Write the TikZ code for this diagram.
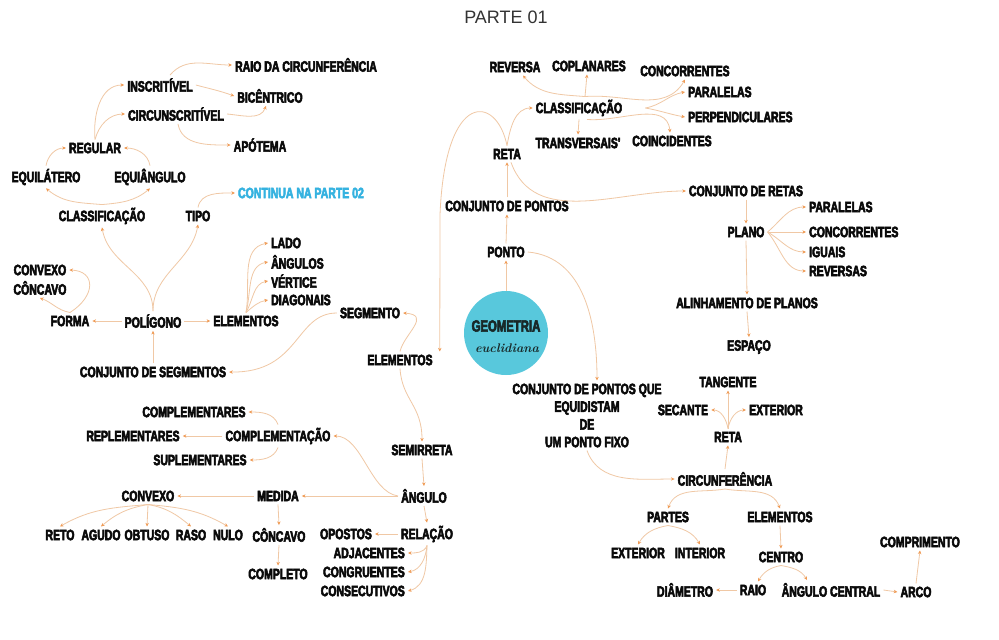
\documentclass[tikz,border=0pt]{standalone}
\usepackage{fontspec}
\usetikzlibrary{arrows.meta}
\newfontfamily\mapfont{Liberation Sans}[FakeStretch=0.70,FakeBold=3.5]
\newfontfamily\titlefont{Liberation Sans}
\definecolor{linkc}{RGB}{240,200,165}
\definecolor{tipc}{RGB}{240,155,85}
\definecolor{txtc}{RGB}{10,10,10}
\definecolor{contc}{RGB}{52,178,224}
\definecolor{discc}{RGB}{88,200,220}
\definecolor{disctxt}{RGB}{24,40,40}

\begin{document}
\begin{tikzpicture}[x=1pt,y=-1pt,
  lbl/.style={inner sep=3pt, text=txtc, font=\mapfont\bfseries\fontsize{15}{17.7}\selectfont},
  lw/.style={lbl, anchor=west},
  le/.style={lbl, anchor=east},
  link/.style={draw=linkc, line width=0.8pt, -{Stealth[length=3.6pt,width=3.4pt,color=tipc]}},
]
\fill[white] (0,0) rectangle (999,640);
\useasboundingbox (0,0) rectangle (999,640);

% title
\node[font=\titlefont\fontsize{18}{20}\selectfont, text=black!80] (title) at (506,17) {PARTE 01};

% ---------- centre ----------
\node[circle, fill=discc, minimum size=84pt, inner sep=0pt] (geo) at (506,333) {};
\node[lbl, text=disctxt, font=\mapfont\bfseries\fontsize{16.2}{17}\selectfont] (geotxt) at (506,326) {GEOMETRIA};
\node[inner sep=0pt, text=disctxt, font=\bfseries\itshape\fontsize{12.5}{13}\selectfont] (euc) at (507,348) {euclidiana};

% ---------- polygons (upper left) ----------
\node[lbl] (raio1) at (306,65) {RAIO DA CIRCUNFERÊNCIA};
\node[lbl] (inscr) at (160,85) {INSCRITÍVEL};
\node[lbl] (bicen) at (270,96) {BICÊNTRICO};
\node[lbl] (circ1) at (176,114) {CIRCUNSCRITÍVEL};
\node[lbl] (apot) at (260,145) {APÓTEMA};
\node[lbl] (regul) at (95,148) {REGULAR};
\node[lbl] (equil) at (46,177) {EQUILÁTERO};
\node[lbl] (equia) at (150,177) {EQUIÂNGULO};
\node[lbl, text=contc] (cont) at (301,193) {CONTINUA NA PARTE 02};
\node[lbl] (class1) at (102,216) {CLASSIFICAÇÃO};
\node[lbl] (tipo) at (198,216) {TIPO};
\node[lw] (lado) at (268,243) {LADO};
\node[lw] (angs) at (268,262) {ÂNGULOS};
\node[lw] (vert) at (268,281) {VÉRTICE};
\node[lw] (diag) at (268,300) {DIAGONAIS};
\node[lbl] (convx1) at (40,270) {CONVEXO};
\node[lbl] (conc1) at (40,288) {CÔNCAVO};
\node[lbl] (forma) at (70,321) {FORMA};
\node[lbl] (polig) at (153,321) {POLÍGONO};
\node[lbl] (elem1) at (246,321) {ELEMENTOS};
\node[lbl] (segm) at (370,313) {SEGMENTO};
\node[lbl] (cjseg) at (153,372) {CONJUNTO DE SEGMENTOS};
\node[lbl] (elem2) at (400,360) {ELEMENTOS};

% ---------- angles (lower left) ----------
\node[lbl] (complem) at (194,412) {COMPLEMENTARES};
\node[lbl] (replem) at (133,436) {REPLEMENTARES};
\node[lbl] (complac) at (278,436) {COMPLEMENTAÇÃO};
\node[lbl] (suplem) at (200,460) {SUPLEMENTARES};
\node[lbl] (semir) at (422,450) {SEMIRRETA};
\node[lbl] (convx2) at (148,496) {CONVEXO};
\node[lbl] (medida) at (278,496) {MEDIDA};
\node[lbl] (angulo) at (424,496) {ÂNGULO};
\node[lbl] (reto) at (60,535) {RETO};
\node[lbl] (agudo) at (101,535) {AGUDO};
\node[lbl] (obtuso) at (147,535) {OBTUSO};
\node[lbl] (raso) at (191,535) {RASO};
\node[lbl] (nulo) at (228,535) {NULO};
\node[lbl] (conc2) at (279,535) {CÔNCAVO};
\node[lbl] (opostos) at (346,534) {OPOSTOS};
\node[lbl] (relacao) at (427,534) {RELAÇÃO};
\node[le] (adjac) at (408,553) {ADJACENTES};
\node[le] (congru) at (408,572) {CONGRUENTES};
\node[le] (consec) at (408,591) {CONSECUTIVOS};
\node[lbl] (complet) at (278,574) {COMPLETO};

% ---------- lines (upper middle) ----------
\node[lbl] (reversa) at (515,67) {REVERSA};
\node[lbl] (coplan) at (589,66) {COPLANARES};
\node[lbl] (concor1) at (685,71) {CONCORRENTES};
\node[lbl] (class2) at (579,108) {CLASSIFICAÇÃO};
\node[lw] (paral1) at (685,92) {PARALELAS};
\node[lw] (perp) at (685,117) {PERPENDICULARES};
\node[lbl] (transv) at (578,143) {TRANSVERSAIS'};
\node[lbl] (coinc) at (672,141) {COINCIDENTES};
\node[lbl] (reta1) at (507,154) {RETA};
\node[lbl] (cjpon) at (507,206) {CONJUNTO DE PONTOS};
\node[lbl] (ponto) at (506,252) {PONTO};

% ---------- planes (right) ----------
\node[lbl] (cjretas) at (746,191) {CONJUNTO DE RETAS};
\node[lbl] (plano) at (746,232) {PLANO};
\node[lw] (paral2) at (806,207) {PARALELAS};
\node[lw] (concor2) at (806,232) {CONCORRENTES};
\node[lw] (iguais) at (806,252) {IGUAIS};
\node[lw] (revs) at (806,271) {REVERSAS};
\node[lbl] (alinh) at (747,303) {ALINHAMENTO DE PLANOS};
\node[lbl] (espaco) at (749,347) {ESPAÇO};

% ---------- circle (lower right) ----------
\node[lbl, align=center] (cjpq) at (587,415.5) {CONJUNTO DE PONTOS QUE\\EQUIDISTAM\\DE\\UM PONTO FIXO};
\node[lbl] (tang) at (728,382) {TANGENTE};
\node[lbl] (secant) at (683,410) {SECANTE};
\node[lbl] (ext1) at (776,410) {EXTERIOR};
\node[lbl] (reta2) at (728,437) {RETA};
\node[lbl] (circf) at (725,479) {CIRCUNFERÊNCIA};
\node[lbl] (partes) at (668,517) {PARTES};
\node[lbl] (elem3) at (780,517) {ELEMENTOS};
\node[lbl] (ext2) at (638,553) {EXTERIOR};
\node[lbl] (inter) at (700,553) {INTERIOR};
\node[lbl] (centro) at (781,557) {CENTRO};
\node[lbl] (compr) at (920,542) {COMPRIMENTO};
\node[lbl] (diam) at (685,590) {DIÂMETRO};
\node[lbl] (raio2) at (753,590) {RAIO};
\node[lbl] (angc) at (831,590) {ÂNGULO CENTRAL};
\node[lbl] (arco) at (916,592) {ARCO};

% ================= connectors =================
% polygons
\draw[link] (regul.north) to[out=95,in=180] (inscr.west);
\draw[link] (regul.north) to[out=75,in=180] (circ1.west);
\draw[link] ([xshift=10pt]inscr.north) to[out=50,in=180] (raio1.west);
\draw[link] (inscr.east) to[out=-15,in=160] (bicen.west);
\draw[link] (circ1.east) to[out=-5,in=-110] ([xshift=-4pt]bicen.south);
\draw[link] ([xshift=2pt]circ1.south) to[out=-80,in=180] (apot.west);
\draw[link] (equil.north) to[out=80,in=180] (regul.west);
\draw[link] (equia.north) to[out=100,in=0] (regul.east);
\draw[link] (class1.north) to[out=175,in=-40] (equil.south);
\draw[link] (class1.north) to[out=5,in=-140] (equia.south);
\draw[link] (tipo.north) to[out=80,in=180] (cont.west);
\draw[link] (polig.north) to[out=90,in=-80] (class1.south);
\draw[link] (polig.north) to[out=90,in=-100] (tipo.south);
\draw[link] (polig.west) -- (forma.east);
\draw[link] (polig.east) -- (elem1.west);
\draw[link] (forma.north) .. controls (96,296) and (96,271) .. (convx1.east);
\draw[link] (forma.north) to[out=170,in=-20] (conc1.south);
\draw[link] (elem1.north) to[out=80,in=190] (lado.west);
\draw[link] (elem1.north) to[out=75,in=190] (angs.west);
\draw[link] (elem1.north) to[out=60,in=190] (vert.west);
\draw[link] (elem1.north) to[out=40,in=190] (diag.west);
\draw[link] (segm.west) .. controls (295,313) and (300,373) .. (cjseg.east);
\draw[link] (cjseg.north) -- (polig.south);
\draw[link] (elem2.north) .. controls (404,334) and (432,315) .. (segm.east);

% lines and points
\draw[link] (reta1.north) .. controls (497,95) and (445,88) .. (440,215) -- ([xshift=4pt]elem2.north east);
\draw[link] (reta1.north) to[out=80,in=180] (class2.west);
\draw[link] ([xshift=6pt]class2.north) to[out=175,in=-50] ([xshift=8pt]reversa.south);
\draw[link] ([xshift=6pt]class2.north) -- ([xshift=-2pt]coplan.south);
\draw[link] ([xshift=6pt]class2.north) to[out=5,in=-120] (concor1.south);
\draw[link] ([xshift=20pt]class2.east) to[out=10,in=190] (paral1.west);
\draw[link] ([xshift=20pt]class2.east) to[out=-10,in=170] (perp.west);
\draw[link] (class2.south) -- (transv.north);
\draw[link] ([xshift=8pt]class2.south) to[out=-5,in=95] ([xshift=-2pt]coinc.north);
\draw[link] (cjpon.north) -- (reta1.south);
\draw[link] ([xshift=4pt]reta1.south) to[out=-70,in=180] (cjretas.west);
\draw[link] (ponto.north) -- (cjpon.south);
\draw[link] (geo.north) -- (ponto.south);
\draw[link] (ponto.east) to[out=-5,in=90] ([xshift=10pt]cjpq.north);

% planes
\draw[link] (cjretas.south) -- (plano.north);
\draw[link] (plano.east) to[out=40,in=180] (paral2.west);
\draw[link] (plano.east) -- (concor2.west);
\draw[link] (plano.east) to[out=-30,in=180] (iguais.west);
\draw[link] (plano.east) to[out=-50,in=180] (revs.west);
\draw[link] (plano.south) -- (alinh.north);
\draw[link] (alinh.south) -- (espaco.north);

% circumference
\draw[link] (cjpq.south) to[out=-70,in=180] (circf.west);
\draw[link] (circf.north) -- (reta2.south);
\draw[link] (reta2.north) -- (tang.south);
\draw[link] (reta2.north) to[out=100,in=0] (secant.east);
\draw[link] (reta2.north) to[out=80,in=180] (ext1.west);
\draw[link] (circf.south) to[out=190,in=70] (partes.north);
\draw[link] (circf.south) to[out=-10,in=110] (elem3.north);
\draw[link] (partes.south) to[out=190,in=60] (ext2.north);
\draw[link] (partes.south) to[out=-10,in=120] (inter.north);
\draw[link] (elem3.south) -- (centro.north);
\draw[link] (centro.south) to[out=190,in=60] ([xshift=5pt]raio2.north);
\draw[link] (centro.south) to[out=-10,in=120] ([xshift=-24pt]angc.north);
\draw[link] (raio2.west) -- (diam.east);
\draw[link] (angc.east) -- (arco.west);
\draw[link] (arco.north) -- (compr.south);

% angles
\draw[link] (elem2.south) .. controls (402,400) and (422,405) .. (semir.north);
\draw[link] (semir.south) -- (angulo.north);
\draw[link] (angulo.west) .. controls (370,492) and (362,436) .. (complac.east);
\draw[link] (angulo.west) -- (medida.east);
\draw[link] (medida.west) -- (convx2.east);
\draw[link] (medida.south) -- (conc2.north);
\draw[link] (conc2.south) -- (complet.north);
\draw[link] (convx2.south) to[out=185,in=30] (reto.north);
\draw[link] (convx2.south) to[out=190,in=40] (agudo.north);
\draw[link] (convx2.south) -- (obtuso.north);
\draw[link] (convx2.south) to[out=-10,in=140] (raso.north);
\draw[link] (convx2.south) to[out=-5,in=150] (nulo.north);
\draw[link] (complac.north) to[out=110,in=0] (complem.east);
\draw[link] (complac.west) -- (replem.east);
\draw[link] (complac.south) to[out=-110,in=0] (suplem.east);
\draw[link] (angulo.south) -- (relacao.north);
\draw[link] (relacao.west) -- (opostos.east);
\draw[link] (relacao.south) to[out=-110,in=0] (adjac.east);
\draw[link] (relacao.south) to[out=-95,in=10] (congru.east);
\draw[link] (relacao.south) to[out=-92,in=15] (consec.east);
\end{tikzpicture}
\end{document}
